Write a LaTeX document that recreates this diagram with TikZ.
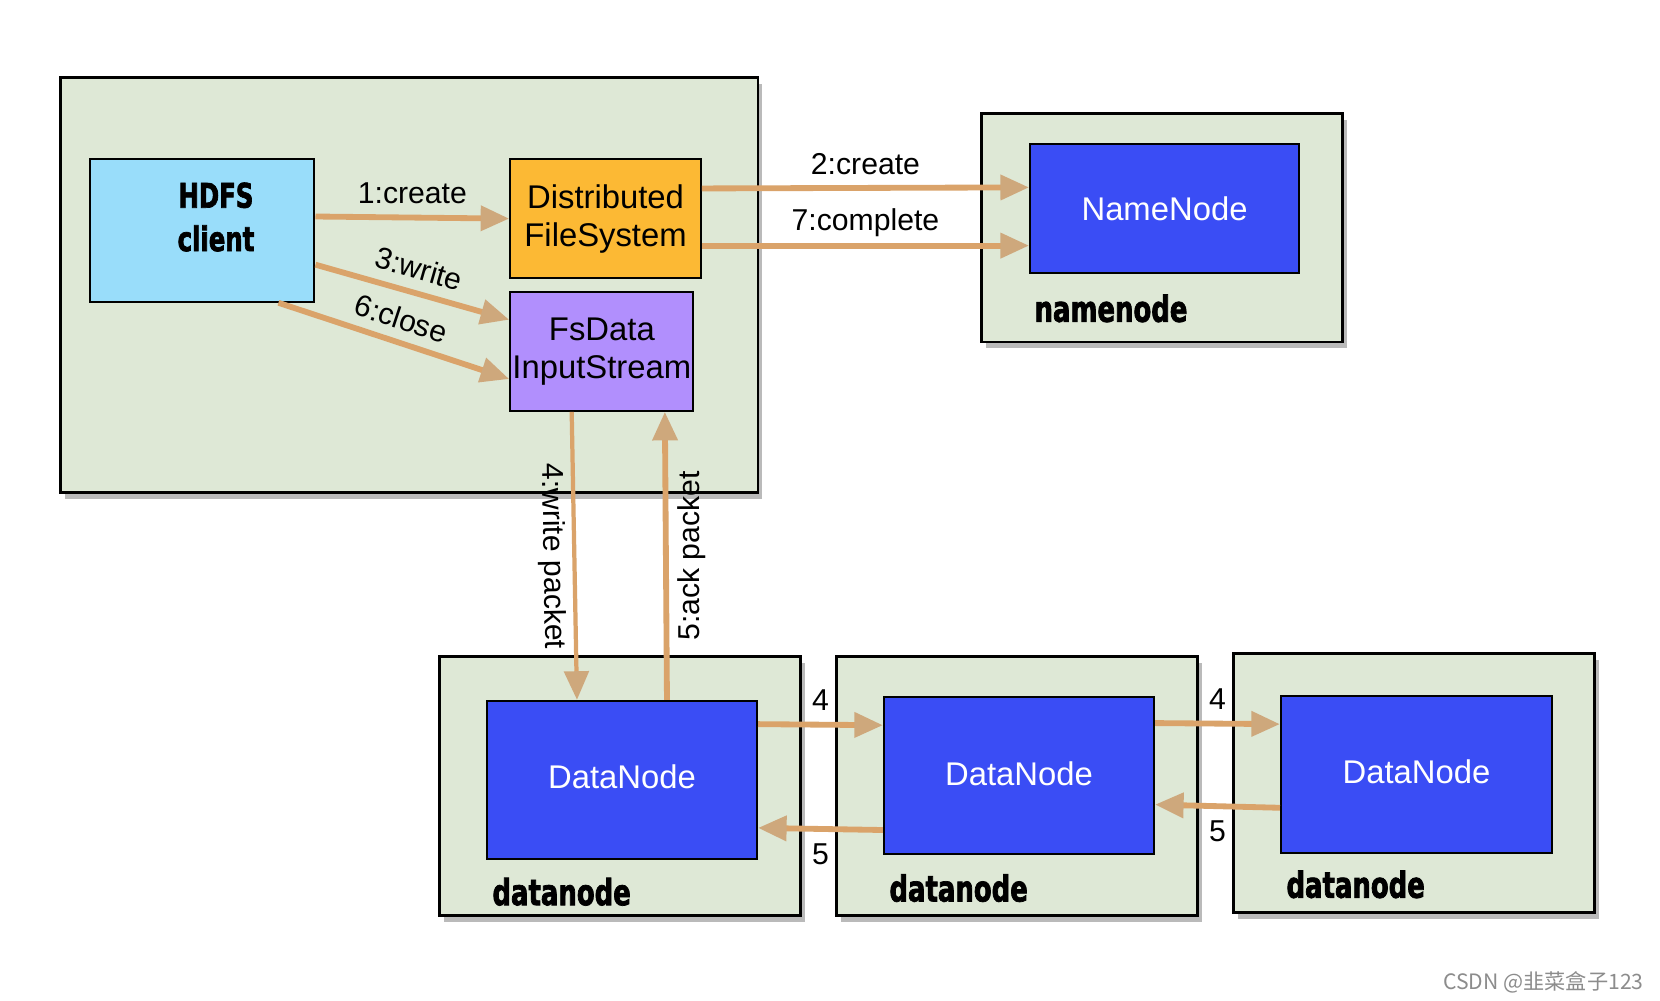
\documentclass[tikz,border=0pt]{standalone}
\usepackage{fontspec}
\setmainfont{Liberation Sans}
\newfontfamily\heavyfont[FakeStretch=0.72, BoldFeatures={FakeBold=2}]{DejaVu Sans}
\newfontfamily\cjkfont{Noto Sans CJK SC}
\usepackage{tikz}
\usetikzlibrary{arrows.meta, shadows}

\definecolor{hostgreen}{RGB}{222,232,214}
\definecolor{clientcyan}{RGB}{153,221,250}
\definecolor{fsorange}{RGB}{252,185,52}
\definecolor{streampurple}{RGB}{177,143,253}
\definecolor{nodeblue}{RGB}{58,77,245}
\definecolor{flowtan}{RGB}{218,163,106}
\definecolor{tiphead}{RGB}{206,168,124}

\begin{document}
\begin{tikzpicture}[x=1pt, y=-1pt,
    host/.style={draw, line width=2.5pt, fill=hostgreen, inner sep=0pt,
        drop shadow={shadow xshift=4pt, shadow yshift=-6pt, opacity=0.45, fill=black!60}},
    box/.style={draw, line width=2pt, inner sep=0pt, align=center,
        font=\fontsize{31}{36}\selectfont},
    daemon/.style={box, fill=nodeblue, text=white},
    heavy/.style={font=\heavyfont\bfseries\fontsize{34}{40}\selectfont, inner sep=0pt},
    flow/.style={draw=flowtan, line width=5.5pt,
        -{Triangle[length=27pt, width=23pt, color=tiphead]}},
    lbl/.style={font=\fontsize{28.5}{32}\selectfont, inner sep=3pt}]

\fill[white] (0,0) rectangle (1568,945.5);
\useasboundingbox (0,0) rectangle (1568,945.5);

% hosts
\node[host, minimum width=659pt, minimum height=392pt] (clienthost) at (386.5,269) {};
\node[host, minimum width=341pt, minimum height=216pt] (namehost) at (1097.5,215) {};
\node[host, minimum width=341pt, minimum height=245pt] (datahostA) at (585.5,742.5) {};
\node[host, minimum width=341pt, minimum height=245pt] (datahostB) at (960.5,742.5) {};
\node[host, minimum width=341pt, minimum height=245pt] (datahostC) at (1335.5,739.5) {};

% client side
\node[box, fill=clientcyan, minimum width=212pt, minimum height=135pt,
    label={[heavy, align=center, font=\heavyfont\bfseries\fontsize{32}{41}\selectfont,
        xshift=13pt, yshift=12.5pt]center:HDFS\\client}] (client) at (191,217.5) {};
\node[box, fill=fsorange, minimum width=180pt, minimum height=113pt] (dfs) at (572,206.5) {Distributed\\FileSystem};
\node[box, fill=streampurple, minimum width=173pt, minimum height=112pt] (stream) at (568.5,332) {FsData\\InputStream};

% daemons
\node[daemon, minimum width=254pt, minimum height=122pt] (namenode) at (1100,197) {NameNode};
\node[daemon, minimum width=255pt, minimum height=149pt] (datanodeA) at (587.5,736.5) {\raisebox{5pt}{DataNode}};
\node[daemon, minimum width=255pt, minimum height=149pt] (datanodeB) at (962.5,732.5) {\raisebox{3pt}{DataNode}};
\node[daemon, minimum width=256pt, minimum height=149pt] (datanodeC) at (1338,731.5) {\raisebox{6pt}{DataNode}};

% host names
\node[heavy, anchor=base west] (namelbl) at (977,304) {namenode};
\node[heavy, anchor=base west] (datalblA) at (465,855) {datanode};
\node[heavy, anchor=base west] (datalblB) at (840,851.5) {datanode};
\node[heavy, anchor=base west] (datalblC) at (1215,848) {datanode};

% calls
\draw[flow] ([yshift=13pt]client.east) -- node[lbl, above=7pt] {1:create} (dfs.west);
\draw[flow] ([yshift=-32.5pt]client.east) -- node[lbl, sloped, above=7pt, pos=0.5] {3:write} ([yshift=30pt]stream.west);
\draw[flow] ([xshift=72pt]client.south) -- node[lbl, sloped, above=6pt, pos=0.5] {6:close} ([yshift=-26pt]stream.west);
\draw[flow] ([yshift=28.5pt]dfs.east) -- node[lbl, above=7pt] {2:create} ([yshift=20pt]namenode.west);
\draw[flow] ([yshift=-25.5pt]dfs.east) -- node[lbl, above=3pt] {7:complete} ([yshift=-35pt]namenode.west);

% pipeline
\draw[flow, line width=4pt] ([xshift=-28.5pt]stream.south) -- node[lbl, sloped, below=3pt] {4:write packet} ([xshift=-42.5pt]datanodeA.north);
\draw[flow] ([xshift=42.5pt]datanodeA.north) -- node[lbl, rotate=90, anchor=north, yshift=-5pt] {5:ack packet} ([xshift=59.5pt]stream.south);
\draw[flow] ([yshift=52.5pt]datanodeA.east) -- node[lbl, above=8pt] {4} ([yshift=47.5pt]datanodeB.west);
\draw[flow] ([yshift=-51.5pt]datanodeB.west) -- node[lbl, below=8pt] {5} ([yshift=-45.5pt]datanodeA.east);
\draw[flow] ([yshift=49.5pt]datanodeB.east) -- node[lbl, above=8pt] {4} ([yshift=47.5pt]datanodeC.west);
\draw[flow] ([yshift=-31.5pt]datanodeC.west) -- node[lbl, below=8pt] {5} ([yshift=-27.5pt]datanodeB.east);

\node[anchor=east, text=black!45, font=\cjkfont\fontsize{20}{24}\selectfont] (mark) at (1556,928) {CSDN @韭菜盒子123};
\end{tikzpicture}
\end{document}
